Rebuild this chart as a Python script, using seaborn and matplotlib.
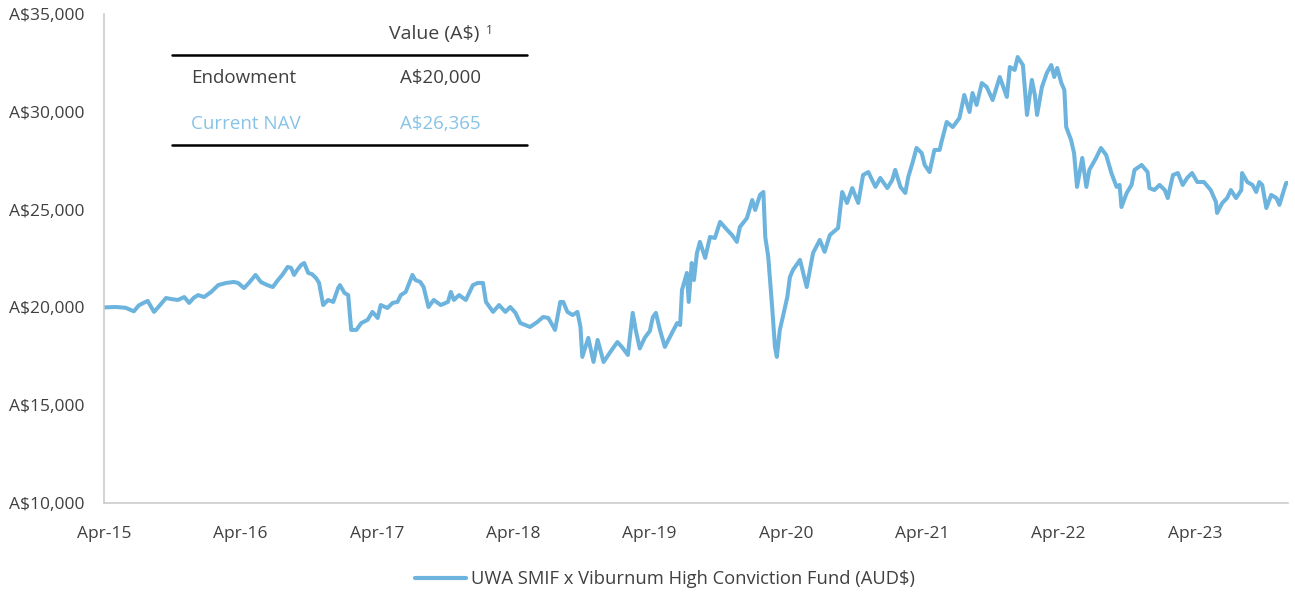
import matplotlib
matplotlib.use("Agg")
import matplotlib.pyplot as plt
import matplotlib.dates as mdates
from matplotlib.lines import Line2D
from matplotlib.ticker import FuncFormatter
import seaborn as sns
import pandas as pd

# ---- data ----
dates = [
    "2015-04-01", "2015-05-03", "2015-05-29", "2015-06-20", "2015-07-03", "2015-07-16", "2015-07-27",
    "2015-08-13", "2015-08-26", "2015-09-14", "2015-09-30", "2015-10-16", "2015-11-02", "2015-11-15",
    "2015-11-28", "2015-12-09", "2015-12-25", "2016-01-13", "2016-02-01", "2016-02-22", "2016-03-14",
    "2016-03-25",
    "2016-04-10", "2016-04-23", "2016-05-11", "2016-05-25", "2016-06-10", "2016-06-26", "2016-07-10",
    "2016-07-23", "2016-08-05", "2016-08-14", "2016-08-22", "2016-08-30", "2016-09-10", "2016-09-18",
    "2016-09-29", "2016-10-09", "2016-10-20", "2016-10-28", "2016-11-08", "2016-11-21", "2016-12-05",
    "2016-12-18", "2016-12-23", "2017-01-04", "2017-01-14", "2017-01-22", "2017-02-05", "2017-02-18",
    "2017-03-07", "2017-03-20",
    "2017-04-03", "2017-04-11", "2017-04-29", "2017-05-13", "2017-05-26", "2017-06-04", "2017-06-17",
    "2017-07-05", "2017-07-13", "2017-07-26", "2017-08-04", "2017-08-17", "2017-08-31", "2017-09-19",
    "2017-10-08", "2017-10-16", "2017-10-24", "2017-11-07", "2017-11-25", "2017-12-14", "2017-12-27",
    "2018-01-10", "2018-01-18", "2018-02-06", "2018-02-22", "2018-03-11", "2018-03-24",
    "2018-04-07", "2018-04-20", "2018-05-03", "2018-05-16", "2018-06-05", "2018-06-20", "2018-07-04",
    "2018-07-22", "2018-08-05", "2018-08-13", "2018-08-24", "2018-09-07", "2018-09-20", "2018-09-28",
    "2018-10-03", "2018-10-19", "2018-11-02", "2018-11-13", "2018-11-29", "2018-12-17", "2019-01-05",
    "2019-01-19", "2019-02-02", "2019-02-15", "2019-02-23", "2019-03-06", "2019-03-19",
    "2019-04-02", "2019-04-10", "2019-04-18", "2019-04-29", "2019-05-12", "2019-05-31", "2019-06-14",
    "2019-06-22", "2019-06-27", "2019-07-10", "2019-07-15", "2019-07-23", "2019-07-29", "2019-08-06",
    "2019-08-14", "2019-08-28", "2019-09-10", "2019-09-23", "2019-10-07", "2019-10-26", "2019-11-08",
    "2019-11-21", "2019-11-29", "2019-12-18", "2020-01-01", "2020-01-09", "2020-01-22", "2020-01-31",
    "2020-02-05", "2020-02-13", "2020-02-24", "2020-03-02", "2020-03-07", "2020-03-15", "2020-03-23",
    "2020-04-04", "2020-04-11", "2020-04-19", "2020-05-02", "2020-05-08", "2020-05-26", "2020-06-12",
    "2020-06-30", "2020-07-13", "2020-07-27", "2020-08-18", "2020-08-29", "2020-09-11", "2020-09-25",
    "2020-10-11", "2020-10-24", "2020-11-07", "2020-11-26", "2020-12-09", "2020-12-28", "2021-01-10",
    "2021-01-18", "2021-02-01", "2021-02-14", "2021-02-22", "2021-03-06", "2021-03-16", "2021-03-30",
    "2021-04-07", "2021-04-20", "2021-05-03", "2021-05-17", "2021-05-22", "2021-06-05", "2021-06-21",
    "2021-07-09", "2021-07-22", "2021-08-05", "2021-08-13", "2021-08-24", "2021-09-07", "2021-09-20",
    "2021-10-06", "2021-10-25", "2021-11-13", "2021-11-21", "2021-12-04", "2021-12-12", "2021-12-26",
    "2022-01-06", "2022-01-19", "2022-01-27", "2022-02-02", "2022-02-15", "2022-02-28", "2022-03-12",
    "2022-03-20", "2022-03-28",
    "2022-04-08", "2022-04-16", "2022-04-21", "2022-05-04", "2022-05-12", "2022-05-20", "2022-06-03",
    "2022-06-14", "2022-06-22", "2022-07-10", "2022-07-23", "2022-08-06", "2022-08-20", "2022-09-03",
    "2022-09-11", "2022-09-16", "2022-09-30", "2022-10-13", "2022-10-21", "2022-11-09", "2022-11-25",
    "2022-11-30", "2022-12-13", "2022-12-27", "2023-01-10", "2023-01-18", "2023-02-01", "2023-02-14",
    "2023-02-27", "2023-03-11", "2023-03-24",
    "2023-04-07", "2023-04-25", "2023-05-13", "2023-05-27", "2023-05-30", "2023-06-13", "2023-06-26",
    "2023-07-06", "2023-07-20", "2023-08-03", "2023-08-05", "2023-08-19", "2023-09-02", "2023-09-12",
    "2023-09-20", "2023-09-28", "2023-10-09", "2023-10-22", "2023-11-05", "2023-11-13", "2023-11-21",
    "2023-12-01", "2023-12-06",
]
nav = [
    20000, 20020, 19980, 19800, 20100, 20230, 20330,
    19770, 20050, 20480, 20420, 20380, 20530, 20230,
    20500, 20630, 20530, 20790, 21140, 21250, 21300,
    21250,
    20990, 21250, 21660, 21300, 21150, 21040, 21400,
    21700, 22070, 22020, 21660, 21900, 22170, 22270,
    21760, 21700, 21500, 21250, 20120, 20380, 20280,
    20990, 21140, 20740, 20630, 18850, 18850, 19200,
    19360, 19770,
    19460, 20120, 19970, 20230, 20280, 20630, 20790,
    21660, 21400, 21300, 21040, 20020, 20380, 20120,
    20280, 20790, 20380, 20630, 20380, 21140, 21250,
    21250, 20280, 19770, 20120, 19770, 20020,
    19720, 19200, 19100, 19000, 19260, 19510, 19460,
    18850, 20280, 20280, 19770, 19610, 19770, 19000,
    17470, 18440, 17210, 18340, 17210, 17720, 18230,
    17930, 17570, 19720, 18850, 17900, 18440,
    18800, 19510, 19720, 18850, 17980, 18690, 19200,
    19100, 20890, 21760, 20280, 22270, 21400, 22780,
    23350, 22530, 23600, 23550, 24370, 23960, 23700,
    23350, 24110, 24570, 25490, 24980, 25750, 25900,
    23600, 22580, 19870, 17980, 17470, 18850, 19510,
    20530, 21550, 21910, 22270, 22430, 21040, 22780,
    23450, 22840, 23700, 24060, 25900, 25340, 26100,
    25340, 26770, 26920, 26160, 26620, 26100, 26510,
    27030, 26160, 25850, 26670, 27430, 28150, 27890,
    27280, 26920, 28050, 28050, 28460, 29480, 29220,
    29680, 30860, 29990, 30960, 30350, 31470, 31270,
    30600, 31780, 30760, 32290, 32140, 32800, 32390,
    29840, 31630, 30860, 29840, 31270, 31980, 32390,
    31780, 32240,
    31470, 31120, 29220, 28560, 27890, 26160, 27640,
    26160, 27030, 27640, 28150, 27790, 26870, 26160,
    26260, 25130, 25850, 26260, 27030, 27280, 26920,
    26100, 26000, 26260, 26000, 25590, 26770, 26870,
    26260, 26620, 26870,
    26410, 26410, 26000, 25390, 24830, 25340, 25590,
    26000, 25590, 26000, 26870, 26410, 26260, 25900,
    26410, 26260, 25080, 25750, 25590, 25240, 25750,
    26360, 26365,
]
series_name = "UWA SMIF x Viburnum High Conviction Fund (AUD$)"
table_header = "Value (A$)"
table_rows = ["Endowment", "Current NAV"]
table_values = ["A$20,000", "A$26,365"]

# ---- plotting ----
sns.set_theme(style="white")
plt.rcParams["font.family"] = ["Open Sans", "DejaVu Sans"]

LINE = "#6CB4DD"
NAV_TXT = "#86C3E6"
TXT = "#404040"
AXC = "#C8C8C8"

df = pd.DataFrame({"Date": pd.to_datetime(dates), "NAV": nav})

fig = plt.figure(figsize=(12.95, 5.93), dpi=100)
ax = fig.add_axes([104 / 1295, 1 - 503 / 593, (1288 - 104) / 1295, (503 - 14) / 593])

sns.lineplot(data=df, x="Date", y="NAV", ax=ax, color=LINE, linewidth=2.9,
             label=series_name, legend=False)

ax.set_xlim(df["Date"].iloc[0], df["Date"].iloc[-1])
ax.set_ylim(10000, 35000)
ax.set_yticks(range(10000, 35001, 5000))
ax.yaxis.set_major_formatter(FuncFormatter(lambda v, p: f"A${v:,.0f}"))
ax.xaxis.set_major_locator(mdates.MonthLocator(bymonth=4, bymonthday=1))
ax.xaxis.set_major_formatter(mdates.DateFormatter("%b-%y"))
ax.set_xlabel("")
ax.set_ylabel("")
ax.grid(False)

for s in ["top", "right"]:
    ax.spines[s].set_visible(False)
for s in ["left", "bottom"]:
    ax.spines[s].set_color(AXC)
    ax.spines[s].set_linewidth(1.1)
ax.tick_params(axis="both", which="major", length=4.5, width=1.0, color=AXC,
               labelsize=12.5, labelcolor=TXT, direction="out")
ax.tick_params(axis="y", pad=9.5)
ax.tick_params(axis="x", pad=12)

# legend
handles = [Line2D([0], [0], color=LINE, linewidth=3)]
fig.legend(handles, [series_name], loc="center", bbox_to_anchor=(665 / 1295, 1 - 579 / 593),
           frameon=False, fontsize=13.2, handlelength=2.8, handletextpad=0.3, labelcolor=TXT)

# summary table (top-left)
def fx(px):
    return px / 1295

def fy(py):
    return 1 - py / 593

for ypx in (55, 145):
    fig.add_artist(Line2D([fx(172), fx(527)], [fy(ypx), fy(ypx)], color="black",
                          linewidth=1.8, transform=fig.transFigure))
fig.text(fx(479), fy(34), table_header, ha="right", va="center", fontsize=14, color=TXT)
fig.text(fx(486), fy(30), "1", ha="left", va="center", fontsize=8.5, color=TXT)
row_y = [78, 124]
row_col = [TXT, NAV_TXT]
for lab, val, ypx, c in zip(table_rows, table_values, row_y, row_col):
    fig.text(fx(191), fy(ypx), lab, ha="left", va="center", fontsize=13.5, color=c)
    fig.text(fx(481), fy(ypx), val, ha="right", va="center", fontsize=13.5, color=c)

fig.savefig("out.png", dpi=100)
